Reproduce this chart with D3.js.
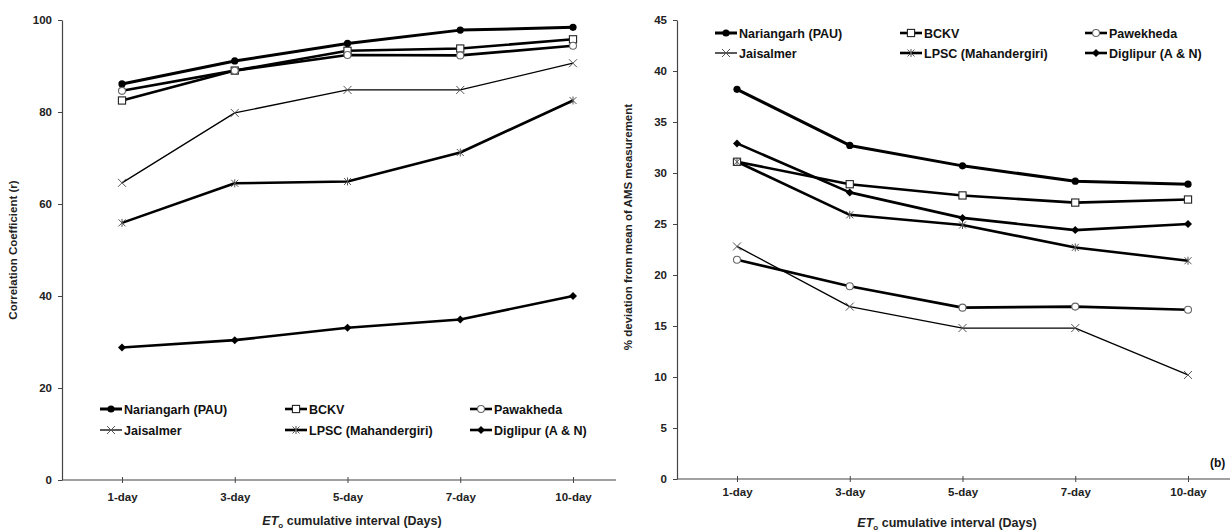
<!DOCTYPE html>
<html>
<head>
<meta charset="utf-8">
<script src="https://cdn.jsdelivr.net/npm/d3@7/dist/d3.min.js"></script>
<style>
  html, body { margin: 0; padding: 0; background: #fff; }
  svg { display: block; font-family: "Liberation Sans", Arial, sans-serif; }
</style>
</head>
<body>
<svg id="chart" width="1230" height="532"></svg>
<script>
// Cumulative ET0 intervals on the x axis
const intervals = ["1-day", "3-day", "5-day", "7-day", "10-day"];

// Station names (left panel spells Pawakheda, right panel Pawekheda)
const stationsLeft  = ["Nariangarh (PAU)", "BCKV", "Pawakheda", "Jaisalmer", "LPSC (Mahandergiri)", "Diglipur (A & N)"];
const stationsRight = ["Nariangarh (PAU)", "BCKV", "Pawekheda", "Jaisalmer", "LPSC (Mahandergiri)", "Diglipur (A & N)"];

// Panel (a): correlation coefficient (r)
const corrNariangarh = [86.1, 91.1, 94.9, 97.8, 98.4];
const corrBCKV       = [82.5, 89.0, 93.3, 93.8, 95.8];
const corrPawakheda  = [84.6, 89.0, 92.4, 92.3, 94.4];
const corrJaisalmer  = [64.6, 79.8, 84.8, 84.8, 90.6];
const corrLPSC       = [55.9, 64.5, 64.9, 71.2, 82.5];
const corrDiglipur   = [28.8, 30.4, 33.1, 34.9, 40.0];

// Panel (b): % deviation from mean of AMS measurement
const devNariangarh = [38.2, 32.7, 30.7, 29.2, 28.9];
const devBCKV       = [31.1, 28.9, 27.8, 27.1, 27.4];
const devPawekheda  = [21.5, 18.9, 16.8, 16.9, 16.6];
const devJaisalmer  = [22.8, 16.9, 14.8, 14.8, 10.2];
const devLPSC       = [31.1, 25.9, 24.9, 22.7, 21.4];
const devDiglipur   = [32.9, 28.1, 25.6, 24.4, 25.0];

// Axis tick values
const corrTicks = [0, 20, 40, 60, 80, 100];
const devTicks  = [0, 5, 10, 15, 20, 25, 30, 35, 40, 45];

// Marker / line style for each station, in legend order
const styles = [
  { marker: "dot",      width: 3.0 },
  { marker: "square",   width: 2.6 },
  { marker: "circle",   width: 2.6 },
  { marker: "cross",    width: 1.3 },
  { marker: "asterisk", width: 2.6 },
  { marker: "diamond",  width: 2.6 }
];

const svg = d3.select("#chart");

function drawMarker(g, type, x, y) {
  switch (type) {
    case "dot":
      g.append("circle").attr("cx", x).attr("cy", y).attr("r", 3.6).attr("fill", "#000");
      break;
    case "square":
      g.append("rect").attr("x", x - 3.6).attr("y", y - 3.6).attr("width", 7.2).attr("height", 7.2)
        .attr("fill", "#fff").attr("stroke", "#222").attr("stroke-width", 1.1);
      break;
    case "circle":
      g.append("circle").attr("cx", x).attr("cy", y).attr("r", 3.5)
        .attr("fill", "#fff").attr("stroke", "#666").attr("stroke-width", 1.1);
      break;
    case "cross":
      g.append("path").attr("d", `M${x-4},${y-4}L${x+4},${y+4}M${x-4},${y+4}L${x+4},${y-4}`)
        .attr("stroke", "#555").attr("stroke-width", 1);
      break;
    case "asterisk":
      g.append("path").attr("d", `M${x-3.5},${y-3.5}L${x+3.5},${y+3.5}M${x-3.5},${y+3.5}L${x+3.5},${y-3.5}M${x},${y-4}L${x},${y+4}`)
        .attr("stroke", "#555").attr("stroke-width", 1);
      break;
    case "diamond":
      g.append("path").attr("d", `M${x},${y-4}L${x+4},${y}L${x},${y+4}L${x-4},${y}Z`).attr("fill", "#000");
      break;
  }
}

function panel(opts) {
  const { left, top, width, height, yMax, ticks, series, names, yTitle, yTitleY, legendY, xLabelY, xTitleY, xTitleX } = opts;
  const g = svg.append("g").attr("transform", `translate(${left},${top})`);

  const x = d3.scalePoint().domain(intervals).range([60, 511]);
  const y = d3.scaleLinear().domain([0, yMax]).range([height, 0]);

  // y axis
  const yAxis = g.append("g").call(d3.axisLeft(y).tickValues(ticks).tickSize(4).tickSizeOuter(0).tickPadding(6));
  yAxis.select(".domain").attr("stroke", "#444").attr("stroke-width", 1.2);
  yAxis.selectAll(".tick line").attr("stroke", "#444");
  yAxis.selectAll(".tick text").attr("font-size", 11.5).attr("font-weight", "bold").attr("fill", "#222");

  // x axis: full-width baseline with short ticks across it
  const xAxis = g.append("g").attr("transform", `translate(0,${height})`)
    .call(d3.axisBottom(x).tickSize(6).tickSizeOuter(0).tickPadding(0));
  xAxis.select(".domain").remove();
  xAxis.append("line").attr("x1", 0).attr("x2", width).attr("stroke", "#444").attr("stroke-width", 1.2);
  xAxis.selectAll(".tick line").attr("y1", -3).attr("y2", 3).attr("stroke", "#444");
  xAxis.selectAll(".tick text").attr("y", xLabelY - height).attr("dy", "0.35em")
    .attr("font-size", 11.5).attr("font-weight", "bold").attr("fill", "#222");

  // series lines and markers
  const line = d3.line().x((d, i) => x(intervals[i])).y(d => y(d));
  series.forEach((vals, s) => {
    g.append("path").datum(vals).attr("d", line).attr("fill", "none")
      .attr("stroke", "#000").attr("stroke-width", styles[s].width).attr("stroke-linejoin", "round");
  });
  series.forEach((vals, s) => {
    vals.forEach((v, i) => drawMarker(g, styles[s].marker, x(intervals[i]), y(v)));
  });

  // legend: two rows of three entries
  const colX = [38, 223, 408];
  names.forEach((name, k) => {
    const cx = colX[k % 3], cy = legendY[Math.floor(k / 3)];
    const lg = g.append("g");
    lg.append("line").attr("x1", cx).attr("x2", cx + 22).attr("y1", cy).attr("y2", cy)
      .attr("stroke", "#000").attr("stroke-width", styles[k].width);
    drawMarker(lg, styles[k].marker, cx + 11, cy);
    lg.append("text").attr("x", cx + 24).attr("y", cy).attr("dy", "0.36em")
      .attr("font-size", 12.5).attr("font-weight", "bold").attr("fill", "#111").text(name);
  });

  // y axis title
  g.append("text").attr("transform", `translate(${-45},${yTitleY}) rotate(-90)`)
    .attr("text-anchor", "middle").attr("font-size", 11.5).attr("font-weight", "bold").attr("fill", "#222")
    .text(yTitle);

  // x axis title: ET with subscript o
  const t = g.append("text").attr("x", xTitleX).attr("y", xTitleY).attr("text-anchor", "middle")
    .attr("font-size", 12.5).attr("font-weight", "bold").attr("fill", "#222");
  t.append("tspan").attr("font-style", "italic").text("ET");
  t.append("tspan").attr("font-size", 8).attr("dy", 3).text("o");
  t.append("tspan").attr("dy", -3).text(" cumulative interval (Days)");

  return g;
}

panel({
  left: 62, top: 20, width: 554, height: 460, yMax: 100, ticks: corrTicks,
  series: [corrNariangarh, corrBCKV, corrPawakheda, corrJaisalmer, corrLPSC, corrDiglipur],
  names: stationsLeft, yTitle: "Correlation Coefficient (r)", yTitleY: 230,
  legendY: [389, 410], xLabelY: 477, xTitleY: 505, xTitleX: 290
});

const right = panel({
  left: 677, top: 20, width: 560, height: 459, yMax: 45, ticks: devTicks,
  series: [devNariangarh, devBCKV, devPawekheda, devJaisalmer, devLPSC, devDiglipur],
  names: stationsRight, yTitle: "% deviation from mean of AMS measurement", yTitleY: 207,
  legendY: [13, 33], xLabelY: 472, xTitleY: 507, xTitleX: 270
});

right.append("text").attr("x", 533).attr("y", 443).attr("dy", "0.35em")
  .attr("font-size", 12).attr("font-weight", "bold").attr("fill", "#111").text("(b)");
</script>
</body>
</html>
